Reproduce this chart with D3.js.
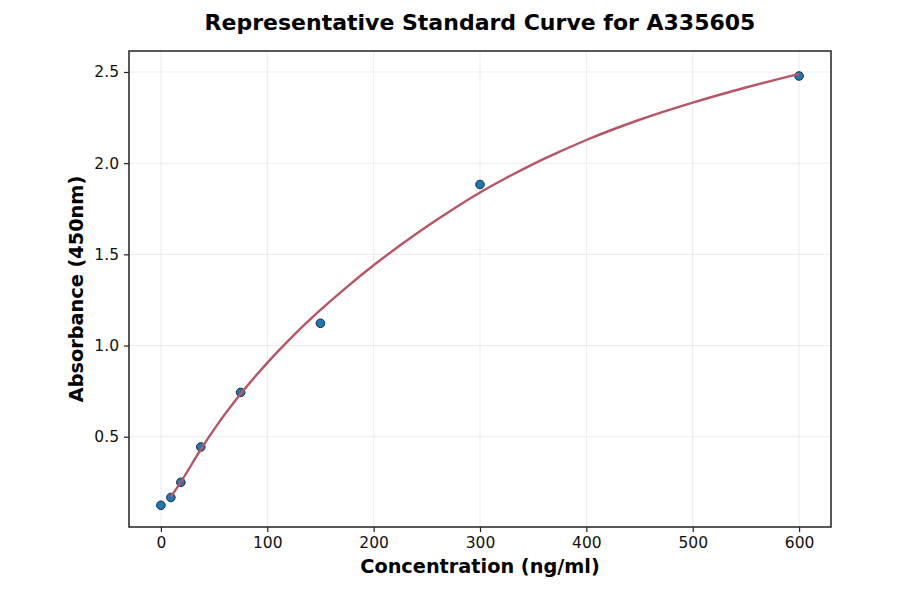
<!DOCTYPE html>
<html>
<head>
    <title>Representative Standard Curve</title>
    <script src="https://d3js.org/d3.v7.min.js"></script>
    <style>
        body { margin: 0; background: #fff; }
        svg { font-family: "DejaVu Sans", sans-serif; }
        .grid line { stroke: #e6e6e6; stroke-width: 0.8; }
        .axis path { display: none; }
        .axis line { stroke: #222; stroke-width: 1.2; }
        .axis text { font-family: "DejaVu Sans", sans-serif; font-size: 15.5px; fill: #111; }
        .frame { fill: none; stroke: #222; stroke-width: 1.5; }
        .fit { fill: none; stroke: #b85565; stroke-width: 2.4; }
        .point { fill: #1f77b4; stroke: #1a2a3a; stroke-width: 1; }
        .label { font-weight: bold; fill: #000; }
    </style>
</head>
<body>
    <svg width="900" height="594"></svg>
    <script>
        // standards
        const concentrations = [0, 9.375, 18.75, 37.5, 75, 150, 300, 600];
        const absorbances = [0.124, 0.167, 0.25, 0.444, 0.743, 1.122, 1.883, 2.478];

        // fitted curve
        const fitX = [9.375, 18.75, 37.5, 50, 75, 100, 125, 150, 175, 200, 225, 250, 275, 300, 325, 350, 375, 400, 450, 500, 550, 600];
        const fitY = [0.17, 0.252, 0.43, 0.54, 0.735, 0.905, 1.057, 1.195, 1.322, 1.44, 1.55, 1.653, 1.749, 1.839, 1.92, 1.995, 2.063, 2.127, 2.238, 2.332, 2.415, 2.49];

        const xTicks = [0, 100, 200, 300, 400, 500, 600];
        const yTicks = [0.5, 1.0, 1.5, 2.0, 2.5];

        const margin = { top: 51, right: 69, bottom: 67, left: 129 };
        const width = 900 - margin.left - margin.right;
        const height = 594 - margin.top - margin.bottom;

        const svg = d3.select("svg");
        const g = svg.append("g")
            .attr("transform", `translate(${margin.left},${margin.top})`);

        const x = d3.scaleLinear().domain([-30, 630]).range([0, width]);
        const y = d3.scaleLinear().domain([0.005, 2.615]).range([height, 0]);

        // grid
        g.append("g").attr("class", "grid")
            .selectAll("line").data(xTicks).enter().append("line")
            .attr("x1", d => x(d)).attr("x2", d => x(d))
            .attr("y1", 0).attr("y2", height);
        g.append("g").attr("class", "grid")
            .selectAll("line").data(yTicks).enter().append("line")
            .attr("x1", 0).attr("x2", width)
            .attr("y1", d => y(d)).attr("y2", d => y(d));

        // axes
        g.append("g")
            .attr("class", "axis")
            .attr("transform", `translate(0,${height})`)
            .call(d3.axisBottom(x).tickValues(xTicks).tickFormat(d3.format("d")).tickSize(5).tickPadding(5));

        g.append("g")
            .attr("class", "axis")
            .call(d3.axisLeft(y).tickValues(yTicks).tickFormat(d3.format(".1f")).tickSize(5).tickPadding(5));

        g.append("rect")
            .attr("class", "frame")
            .attr("width", width)
            .attr("height", height);

        // points under the line
        g.selectAll(".point")
            .data(concentrations)
            .enter().append("circle")
            .attr("class", "point")
            .attr("cx", d => x(d))
            .attr("cy", (d, i) => y(absorbances[i]))
            .attr("r", 4.3);

        const line = d3.line()
            .x(d => x(d))
            .y((d, i) => y(fitY[i]))
            .curve(d3.curveMonotoneX);

        g.append("path")
            .datum(fitX)
            .attr("class", "fit")
            .attr("d", line);

        // labels
        svg.append("text")
            .attr("class", "label")
            .attr("x", margin.left + width / 2)
            .attr("y", 30)
            .attr("text-anchor", "middle")
            .style("font-size", "22px")
            .text("Representative Standard Curve for A335605");

        svg.append("text")
            .attr("class", "label")
            .attr("x", margin.left + width / 2)
            .attr("y", 573)
            .attr("text-anchor", "middle")
            .style("font-size", "19.3px")
            .text("Concentration (ng/ml)");

        svg.append("text")
            .attr("class", "label")
            .attr("transform", `translate(83,${margin.top + height / 2}) rotate(-90)`)
            .attr("text-anchor", "middle")
            .style("font-size", "19.3px")
            .text("Absorbance (450nm)");
    </script>
</body>
</html>
